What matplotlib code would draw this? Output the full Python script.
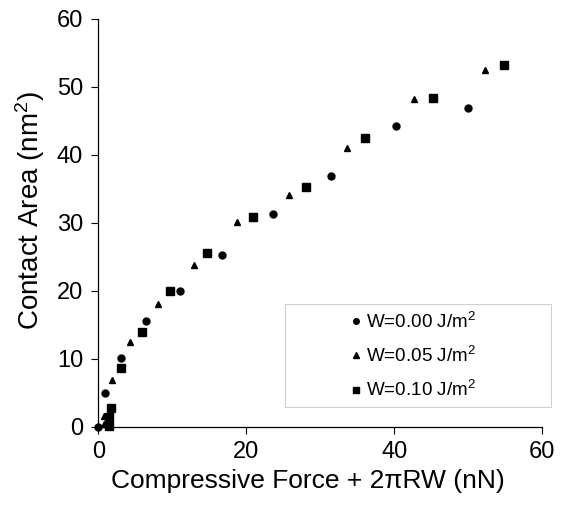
import matplotlib
matplotlib.use("Agg")
import matplotlib.pyplot as plt
from matplotlib.patches import Rectangle

plt.rcParams['font.family'] = ['Liberation Sans', 'DejaVu Sans']
plt.rcParams['mathtext.fontset'] = 'custom'
plt.rcParams['mathtext.rm'] = 'Liberation Sans'
plt.rcParams['mathtext.it'] = 'Liberation Sans'

# W = 0.00 J/m2
x_w000 = [0.0, 0.9, 3.0, 6.4, 11.0, 16.7, 23.6, 31.4, 40.2, 49.9]
y_w000 = [0.0, 4.9, 10.1, 15.5, 20.0, 25.2, 31.3, 36.8, 44.2, 46.9]
# W = 0.05 J/m2
x_w005 = [0.7, 0.8, 1.9, 4.3, 8.1, 12.9, 18.7, 25.7, 33.6, 42.7, 52.3]
y_w005 = [0.4, 1.6, 6.9, 12.4, 18.0, 23.8, 30.1, 34.1, 41.0, 48.1, 52.5]
# W = 0.10 J/m2
x_w010 = [1.45, 1.5, 1.7, 3.1, 5.9, 9.7, 14.7, 20.9, 28.0, 36.0, 45.2, 54.8]
y_w010 = [0.15, 1.4, 2.7, 8.6, 13.9, 20.0, 25.5, 30.8, 35.2, 42.4, 48.3, 53.1]

labels = ['W=0.00 J/m$^2$', 'W=0.05 J/m$^2$', 'W=0.10 J/m$^2$']
ticks = [0, 20, 40, 60]
yticks = [0, 10, 20, 30, 40, 50, 60]

fig = plt.figure(figsize=(5.62, 5.14), dpi=100)
ax = fig.add_axes([0.175, 0.170, 0.790, 0.794])

h1, = ax.plot(x_w000, y_w000, 'o', color='black', ms=5, clip_on=False, zorder=3)
h2, = ax.plot(x_w005, y_w005, '^', color='black', ms=5, clip_on=False, zorder=3)
h3, = ax.plot(x_w010, y_w010, 's', color='black', ms=5.2, clip_on=False, zorder=3)

ax.set_xlim(0, 60)
ax.set_ylim(0, 60)
ax.set_xticks(ticks)
ax.set_yticks(yticks)
ax.tick_params(labelsize=17, length=5, width=0.8, direction='out', colors='black')
ax.tick_params(axis='y', pad=6)
ax.tick_params(axis='x', pad=5)
for s in ['top', 'right']:
    ax.spines[s].set_visible(False)
for s in ['left', 'bottom']:
    ax.spines[s].set_linewidth(0.9)

ax.set_xlabel('Compressive Force + 2πRW (nN)', fontsize=19, labelpad=5)
ax.set_ylabel('Contact Area (nm$^2$)', fontsize=20, labelpad=7)
ax.xaxis.label.set_x(0.472)
ax.yaxis.label.set_y(0.53)

# legend box drawn separately, content centered inside
ax.add_patch(Rectangle((0.42, 0.047), 0.60, 0.253, transform=ax.transAxes,
                       facecolor='white', edgecolor='#d0d0d0', lw=0.8,
                       clip_on=False, zorder=2))
leg = ax.legend([h1, h2, h3], labels, loc='center', bbox_to_anchor=(0.706, 0.173),
                frameon=False, fontsize=13.6, handletextpad=0.05, handlelength=0.9,
                labelspacing=0.75, markerscale=0.8)
leg.set_zorder(4)

plt.savefig('out.png', dpi=100)
